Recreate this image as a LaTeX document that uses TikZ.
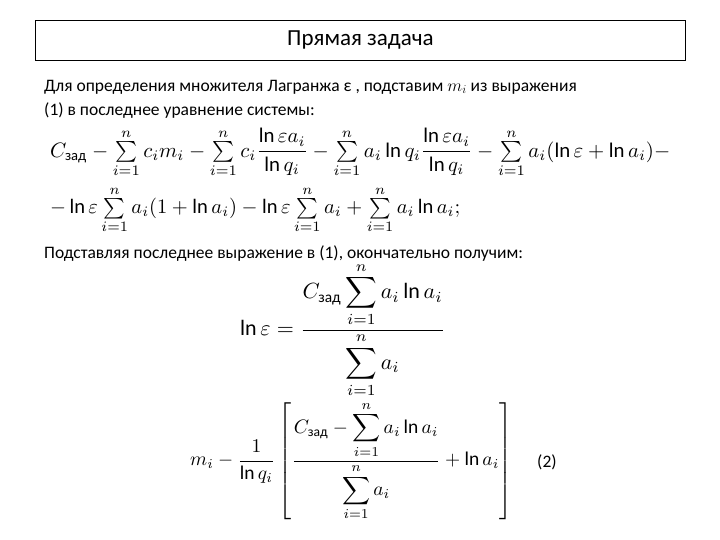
\documentclass[tikz,border=0pt]{standalone}
\usepackage{amsmath}
\usepackage{fontspec}
\setmainfont{Carlito}
\usepackage{graphicx}
\begin{document}
\begin{tikzpicture}[x=1pt,y=-1pt,
  txt/.style={anchor=west,inner sep=0pt,font=\fontsize{17.5}{20}\selectfont},
  frm/.style={inner sep=0pt}]
\useasboundingbox[fill=white] (0,0) rectangle (720,540);
\node[draw,thick,minimum width=650pt,minimum height=40pt,anchor=north west,font=\fontsize{23}{26}\selectfont] (title) at (35,20) {Прямая задача};
\node[txt] (t1) at (44,87) {Для определения множителя Лагранжа ε , подставим $m_i$ из выражения};
\node[txt] (t2) at (44,111) {(1) в последнее уравнение системы:};
\node[frm,anchor=west] (f1) at (50,153) {\resizebox{620pt}{!}{$C_{\text{зад}}-\sum\limits_{i=1}^{n}c_i m_i-\sum\limits_{i=1}^{n}c_i\dfrac{\ln\varepsilon a_i}{\ln q_i}-\sum\limits_{i=1}^{n}a_i\ln q_i\dfrac{\ln\varepsilon a_i}{\ln q_i}-\sum\limits_{i=1}^{n}a_i(\ln\varepsilon+\ln a_i)-$}};
\node[frm,anchor=west] (f2) at (50,210) {\resizebox{410pt}{!}{$-\ln\varepsilon\sum\limits_{i=1}^{n}a_i(1+\ln a_i)-\ln\varepsilon\sum\limits_{i=1}^{n}a_i+\sum\limits_{i=1}^{n}a_i\ln a_i;$}};
\node[txt] (t3) at (44,254) {Подставляя последнее выражение в (1), окончательно получим:};
\node[frm,anchor=west] (f3) at (240,330) {\resizebox{205pt}{!}{$\ln\varepsilon=\dfrac{C_{\text{зад}}\displaystyle\sum_{i=1}^{n}a_i\ln a_i}{\displaystyle\sum_{i=1}^{n}a_i}$}};
\node[frm,anchor=west] (f4) at (190,461) {\resizebox{322pt}{!}{$m_i-\dfrac{1}{\ln q_i}\left[\dfrac{C_{\text{зад}}-\displaystyle\sum_{i=1}^{n}a_i\ln a_i}{\displaystyle\sum_{i=1}^{n}a_i}+\ln a_i\right]$}};
\node[txt] (n2) at (537,462) {(2)};
\end{tikzpicture}
\end{document}
